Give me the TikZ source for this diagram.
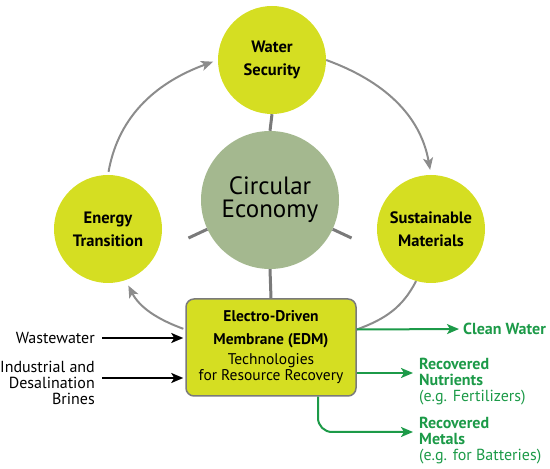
\documentclass[tikz,border=0pt]{standalone}
\usepackage{fontspec}
\setmainfont{PT Sans}
\usetikzlibrary{arrows.meta}
\definecolor{limeyel}{HTML}{D5DE22}
\definecolor{sage}{HTML}{A4B88F}
\definecolor{leaf}{HTML}{1C9A48}
\definecolor{arcgray}{HTML}{8C8C8C}
\definecolor{spokegray}{HTML}{7A7A7A}

\begin{document}
\begin{tikzpicture}[x=1pt, y=1pt,
  bubble/.style={circle, fill=limeyel, minimum size=108pt, inner sep=0pt,
                 align=center, font=\fontsize{16.5}{23}\selectfont\bfseries},
  hub/.style={circle, fill=sage, minimum size=138pt, inner sep=0pt,
              align=center, font=\fontsize{25}{23}\selectfont},
  edmbox/.style={draw=spokegray, fill=limeyel, rounded corners=8pt, line width=1.5pt,
                 minimum width=170pt, minimum height=97pt, align=center,
                 font=\fontsize{15.5}{16}\selectfont},
  spoke/.style={spokegray, line width=3pt},
  cycline/.style={arcgray, line width=2pt},
  cyc/.style={cycline, -{Stealth[length=12pt, width=10pt, inset=3pt]}},
  feed/.style={black, line width=2pt, -{Stealth[length=12pt, width=10pt, inset=3pt]}},
  product/.style={leaf, line width=2pt, -{Stealth[length=12pt, width=10pt, inset=3pt]}},
  inlbl/.style={anchor=east, align=right, inner sep=0pt, font=\fontsize{16}{16}\selectfont},
  outlbl/.style={anchor=west, align=left, inner sep=0pt, text=leaf,
                 font=\fontsize{16}{16}\selectfont},
]
\useasboundingbox (0,0) rectangle (550,469);

% --- circles ---
\node[hub]    (circ)   at (270,269) {Circular\\Economy};
\node[bubble] (water)  at (272,409) {Water\\Security};
\node[bubble] (energy) at (108,240) {Energy\\Transition};
\node[bubble] (sust)   at (431,240) {Sustainable\\Materials};

% --- EDM box ---
\node[edmbox] (box) at (271,121.5) {\textbf{Electro-Driven}\\[7pt]\textbf{Membrane (EDM)}\\[4pt]Technologies\\for Resource Recovery};

% --- spokes ---
\path (circ) ++(205:90) coordinate (spL);
\path (circ) ++(335:90) coordinate (spR);
\draw[spoke] (circ.north) -- (water.south);
\draw[spoke] (circ.south) -- (box.north);
\draw[spoke] (circ.205) -- (spL);
\draw[spoke] (circ.335) -- (spR);

% --- cycle ---
\coordinate (boxL) at ([yshift=18pt]box.west);
\coordinate (boxR) at ([yshift=18pt]box.east);
\draw[cyc, shorten <=3pt, shorten >=5pt] (energy.north) to[out=80, in=200] (water.west);
\draw[cyc, shorten >=5pt] (water.east) to[out=-20, in=100] (sust.north);
\draw[cyc, shorten <=2pt, shorten >=6pt] (boxL) to[out=160, in=-63] (energy.-71);
\draw[cycline] (sust.-106) to[out=243, in=20] (boxR);

% --- inputs ---
\node[inlbl] (ww)    at (95,131) {Wastewater};
\node[inlbl] (brine) at (95,86)  {Industrial and\\Desalination\\Brines};
\coordinate (brOut) at ([yshift=5pt]brine.east);
\draw[feed, shorten <=7pt, shorten >=2pt] (ww.east) -- (box.west |- ww.east);
\draw[feed, shorten <=7pt, shorten >=2pt] (brOut) -- (box.west |- brOut);

% --- outputs ---
\node[outlbl] (clean) at (463,140) {\textbf{Clean Water}};
\node[outlbl] (nutr)  at (419,87)  {\textbf{Recovered}\\\textbf{Nutrients}\\(e.g. Fertilizers)};
\node[outlbl] (metal) at (419,28)  {\textbf{Recovered}\\\textbf{Metals}\\(e.g. for Batteries)};
\coordinate (nutrIn) at ([xshift=-6pt, yshift=9pt]nutr.west);
\coordinate (metIn)  at ([xshift=-6pt, yshift=9pt]metal.west);
\coordinate (metOut) at ([xshift=47pt]box.south);
\draw[product, shorten >=4pt] (boxR) -- (clean.west);
\draw[product] (box.east |- nutrIn) -- (nutrIn);
\draw[product, rounded corners=14pt] (metOut) |- (metIn);

\end{tikzpicture}
\end{document}
